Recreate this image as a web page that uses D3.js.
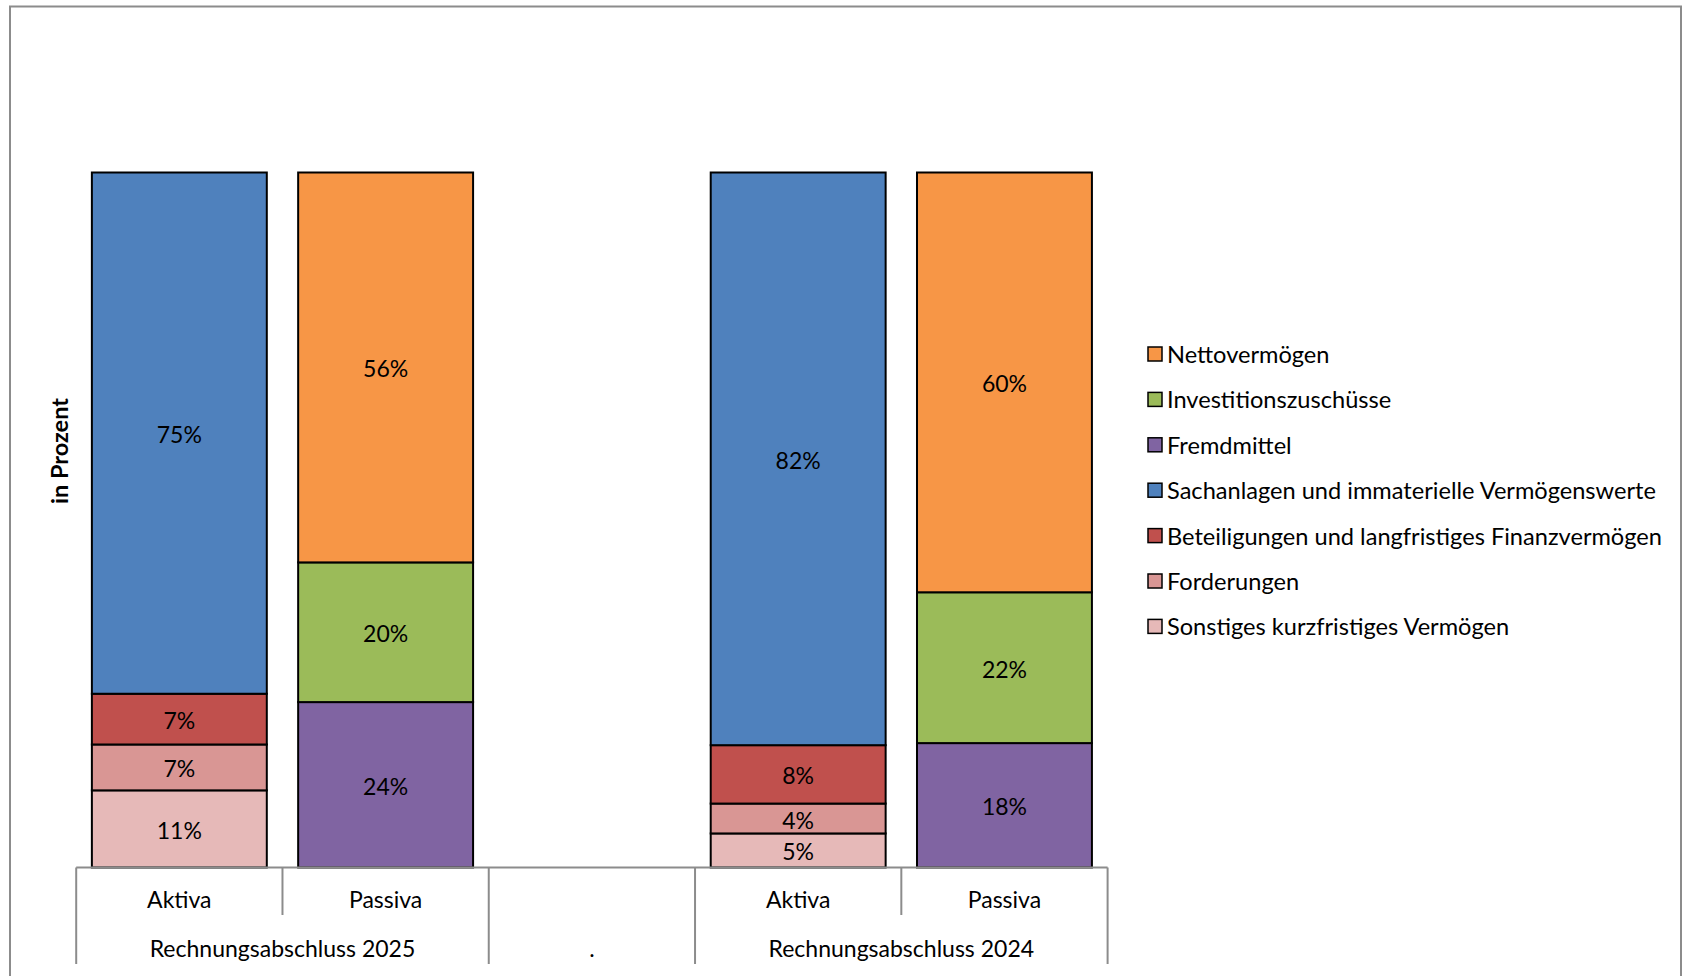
<!DOCTYPE html>
<html><head><meta charset="utf-8">
<script src="https://cdn.jsdelivr.net/npm/d3@7"></script>
<style>body{margin:0;background:#fff;} svg{display:block;font-family:Lato, "Open Sans", sans-serif;}</style>
</head><body>
<svg id="c" width="1683" height="976"></svg>
<script>
// ---- data ----
const slots = ["Aktiva|2025", "Passiva|2025", "blank", "Aktiva|2024", "Passiva|2024"];
const slotLabels = ["Aktiva", "Passiva", "", "Aktiva", "Passiva"];
const groups = ["Rechnungsabschluss 2025", ".", "Rechnungsabschluss 2024"];
const groupSpans = [[0, 2], [2, 3], [3, 5]];
const series = ["Nettovermögen", "Investitionszuschüsse", "Fremdmittel",
  "Sachanlagen und immaterielle Vermögenswerte", "Beteiligungen und langfristiges Finanzvermögen",
  "Forderungen", "Sonstiges kurzfristiges Vermögen"];
const colors = ["#F79646", "#9BBB59", "#8064A2", "#4F81BD", "#C0504D", "#D99694", "#E6B9B8"];
// stacks bottom -> top
const aktivaSeries = ["Sonstiges kurzfristiges Vermögen", "Forderungen",
  "Beteiligungen und langfristiges Finanzvermögen", "Sachanlagen und immaterielle Vermögenswerte"];
const passivaSeries = ["Fremdmittel", "Investitionszuschüsse", "Nettovermögen"];
const aktiva2025 = [11.1, 6.6, 7.3, 75.0];
const passiva2025 = [23.8, 20.1, 56.1];
const aktiva2024 = [4.9, 4.3, 8.4, 82.4];
const passiva2024 = [17.9, 21.7, 60.4];
const yTitle = "in Prozent";

const stacks = [
  {slot: "Aktiva|2025", names: aktivaSeries, vals: aktiva2025},
  {slot: "Passiva|2025", names: passivaSeries, vals: passiva2025},
  {slot: "Aktiva|2024", names: aktivaSeries, vals: aktiva2024},
  {slot: "Passiva|2024", names: passivaSeries, vals: passiva2024}
];

const svg = d3.select("#c");
const color = d3.scaleOrdinal(series, colors);
const x = d3.scaleBand(slots, [76.2, 1107.6]).padding(0);
const y = d3.scaleLinear([0, 100], [867.5, 172.5]);
const barW = x.bandwidth() * 0.848;
const fmt = d3.format(".0%");

// outer border
svg.append("rect").attr("x", 10).attr("y", 6.5).attr("width", 1671).attr("height", 1000)
  .attr("fill", "none").attr("stroke", "#8c8c8c").attr("stroke-width", 2);

// bars
stacks.forEach(s => {
  let acc = 0;
  const segs = s.vals.map((v, i) => { const o = {name: s.names[i], y0: acc, y1: acc + v, v}; acc += v; return o; });
  const g = svg.append("g");
  const cx = x(s.slot) + x.bandwidth() / 2;
  g.selectAll("rect").data(segs).join("rect")
    .attr("x", cx - barW / 2).attr("width", barW)
    .attr("y", d => y(d.y1)).attr("height", d => y(d.y0) - y(d.y1))
    .attr("fill", d => color(d.name)).attr("stroke", "#000").attr("stroke-width", 2);
  g.selectAll("text").data(segs).join("text")
    .attr("x", cx).attr("y", d => (y(d.y0) + y(d.y1)) / 2 + 1)
    .attr("text-anchor", "middle").attr("dominant-baseline", "central")
    .attr("font-size", 23).attr("fill", "#000")
    .text(d => fmt(Math.round(d.v) / 100));
});

// category axis
const axG = svg.append("g").attr("stroke", "#8c8c8c").attr("stroke-width", 2);
axG.append("line").attr("x1", x.range()[0]).attr("x2", x.range()[1]).attr("y1", y(0)).attr("y2", y(0));
const boundaries = d3.range(slots.length + 1).map(i => x.range()[0] + i * x.step());
const outer = new Set([0, 2, 3, 5]);
boundaries.forEach((bx, i) => {
  axG.append("line").attr("x1", bx).attr("x2", bx).attr("y1", y(0))
    .attr("y2", outer.has(i) ? 964 : 915);
});
slots.forEach((s, i) => {
  if (!slotLabels[i]) return;
  svg.append("text").attr("x", x(s) + x.bandwidth() / 2).attr("y", 899)
    .attr("text-anchor", "middle").attr("dominant-baseline", "central")
    .attr("font-size", 23).text(slotLabels[i]);
});
groups.forEach((gname, i) => {
  const [a, b] = groupSpans[i];
  svg.append("text").attr("x", (boundaries[a] + boundaries[b]) / 2).attr("y", 948)
    .attr("text-anchor", "middle").attr("dominant-baseline", "central")
    .attr("font-size", 23).text(gname);
});

// y title
svg.append("text").attr("transform", "translate(59,451) rotate(-90)")
  .attr("text-anchor", "middle").attr("dominant-baseline", "central")
  .attr("font-size", 23.5).attr("font-weight", "bold").text(yTitle);

// legend
const lg = svg.append("g").attr("transform", "translate(1148,354)");
series.forEach((s, i) => {
  const r = lg.append("g").attr("transform", `translate(0,${i * 45.4})`);
  r.append("rect").attr("x", 0).attr("y", -7).attr("width", 14).attr("height", 14)
    .attr("fill", color(s)).attr("stroke", "#000").attr("stroke-width", 1.5);
  r.append("text").attr("x", 19).attr("y", 0).attr("dominant-baseline", "central")
    .attr("font-size", 23.6).text(s);
});
</script>
</body></html>
